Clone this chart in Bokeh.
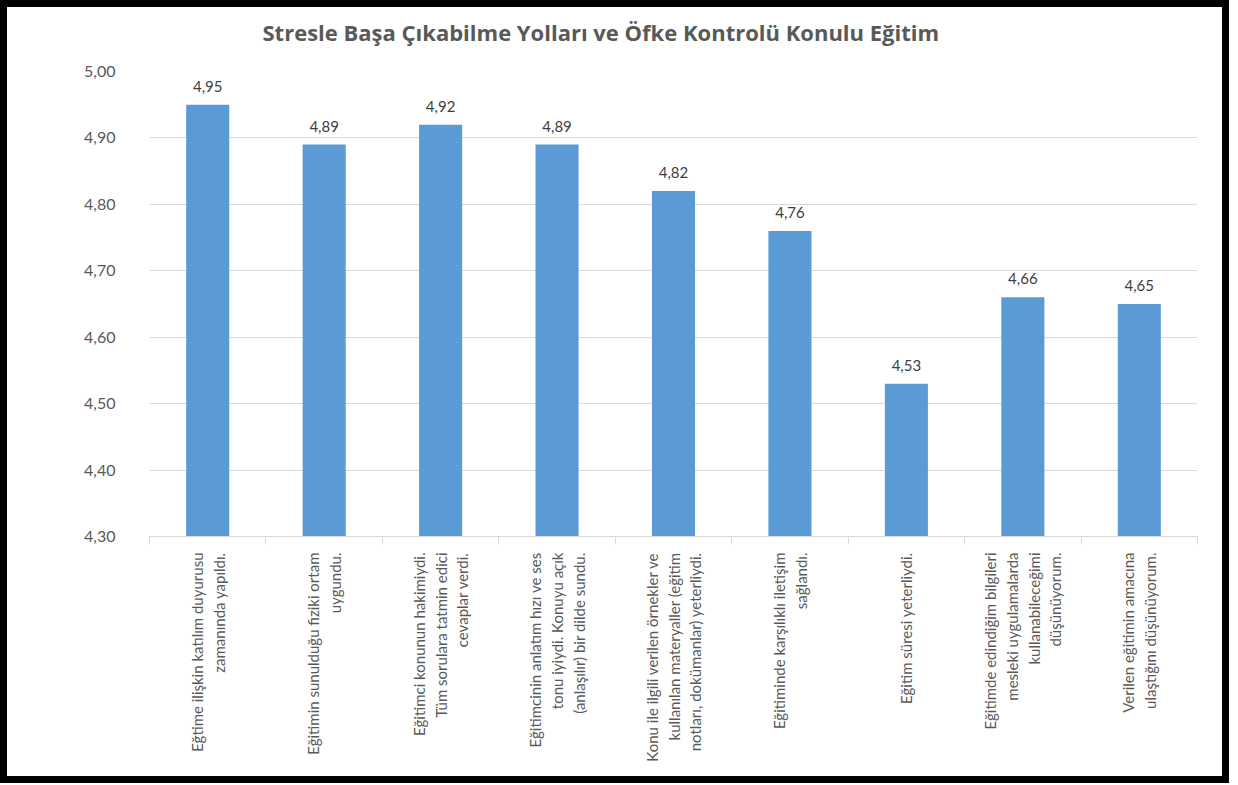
import math
from bokeh.plotting import figure
from bokeh.models import (ColumnDataSource, LabelSet, FixedTicker, CustomJSTickFormatter,
                          Range1d, Column, Title)
from bokeh.core.properties import value
from bokeh.embed import file_html
from bokeh.resources import INLINE

title = "Stresle Başa Çıkabilme Yolları ve Öfke Kontrolü Konulu Eğitim"
categories = [
    "Eğtime ilişkin katılım duyurusu\nzamanında yapıldı.",
    "Eğitimin sunulduğu fiziki ortam\nuygundu.",
    "Eğitimci konunun hakimiydi.\nTüm sorulara tatmin edici\ncevaplar verdi.",
    "Eğitimcinin anlatım hızı ve ses\ntonu iyiydi. Konuyu açık\n(anlaşılır) bir dilde sundu.",
    "Konu ile ilgili verilen örnekler ve\nkullanılan materyaller (eğitim\nnotları, dokümanlar) yeterliydi.",
    "Eğitiminde karşılıklı iletişim\nsağlandı.",
    "Eğitim süresi yeterliydi.",
    "Eğitimde edindiğim bilgileri\nmesleki uygulamalarda\nkullanabileceğimi\ndüşünüyorum.",
    "Verilen eğitimin amacına\nulaştığını düşünüyorum.",
]
values = [4.95, 4.89, 4.92, 4.89, 4.82, 4.76, 4.53, 4.66, 4.65]
y_ticks = [4.30, 4.40, 4.50, 4.60, 4.70, 4.80, 4.90, 5.00]

n = len(categories)
xs = [i + 0.5 for i in range(n)]
labels = [f"{v:.2f}".replace(".", ",") for v in values]
src = ColumnDataSource(dict(x=xs, top=values, lab=labels))

FONT = "Lato"
GREY = "#595959"

p = figure(width=1215, height=769, output_backend="svg", toolbar_location=None,
           x_range=Range1d(0, n), y_range=Range1d(4.30, 5.00),
           min_border_left=142, min_border_right=25, min_border_top=64,
           min_border_bottom=240, outline_line_color=None)

# spacer (nearest to the plot) then the main title above it
p.add_layout(Title(text=" ", text_font_size="1px", standoff=17), "above")
p.add_layout(Title(text=title, text_font="Open Sans", text_font_size="22px",
                   text_font_style="bold", text_color=GREY, align="left",
                   offset=113, standoff=10), "above")

p.vbar(x="x", top="top", bottom=4.30, width=0.37, source=src,
       fill_color="#5b9bd5", line_color=None)

p.add_layout(LabelSet(x="x", y="top", text="lab", source=src, y_offset=13,
                      text_align="center", text_baseline="bottom",
                      text_font=value(FONT), text_font_size="15px", text_color="#404040"))

# y axis
p.yaxis.ticker = FixedTicker(ticks=y_ticks)
p.yaxis.formatter = CustomJSTickFormatter(code="return tick.toFixed(2).replace('.', ',');")
p.yaxis.axis_line_color = None
p.yaxis.major_tick_line_color = None
p.yaxis.minor_tick_line_color = None
p.yaxis.major_label_standoff = 28
p.yaxis.major_label_text_font = FONT
p.yaxis.major_label_text_font_size = "16px"
p.yaxis.major_label_text_color = GREY

# x axis
p.xaxis.ticker = FixedTicker(ticks=xs, minor_ticks=list(range(n + 1)))
p.xaxis.major_label_overrides = {x: c for x, c in zip(xs, categories)}
p.xaxis.major_label_orientation = math.pi / 2
p.xaxis.major_label_text_align = "center"
p.xaxis.major_tick_line_color = None
p.xaxis.minor_tick_in = 0
p.xaxis.minor_tick_out = 8
p.xaxis.minor_tick_line_color = "#d9d9d9"
p.xaxis.axis_line_color = "#d9d9d9"
p.xaxis.major_label_standoff = 8
p.xaxis.major_label_text_font = FONT
p.xaxis.major_label_text_font_size = "15px"
p.xaxis.major_label_text_color = GREY

p.xgrid.grid_line_color = None
p.ygrid.ticker = FixedTicker(ticks=y_ticks)
p.ygrid.grid_line_color = "#d9d9d9"

layout = Column(p, styles={"border": "7px solid black", "background-color": "white"})

open("out.html", "w").write(file_html(layout, INLINE))
